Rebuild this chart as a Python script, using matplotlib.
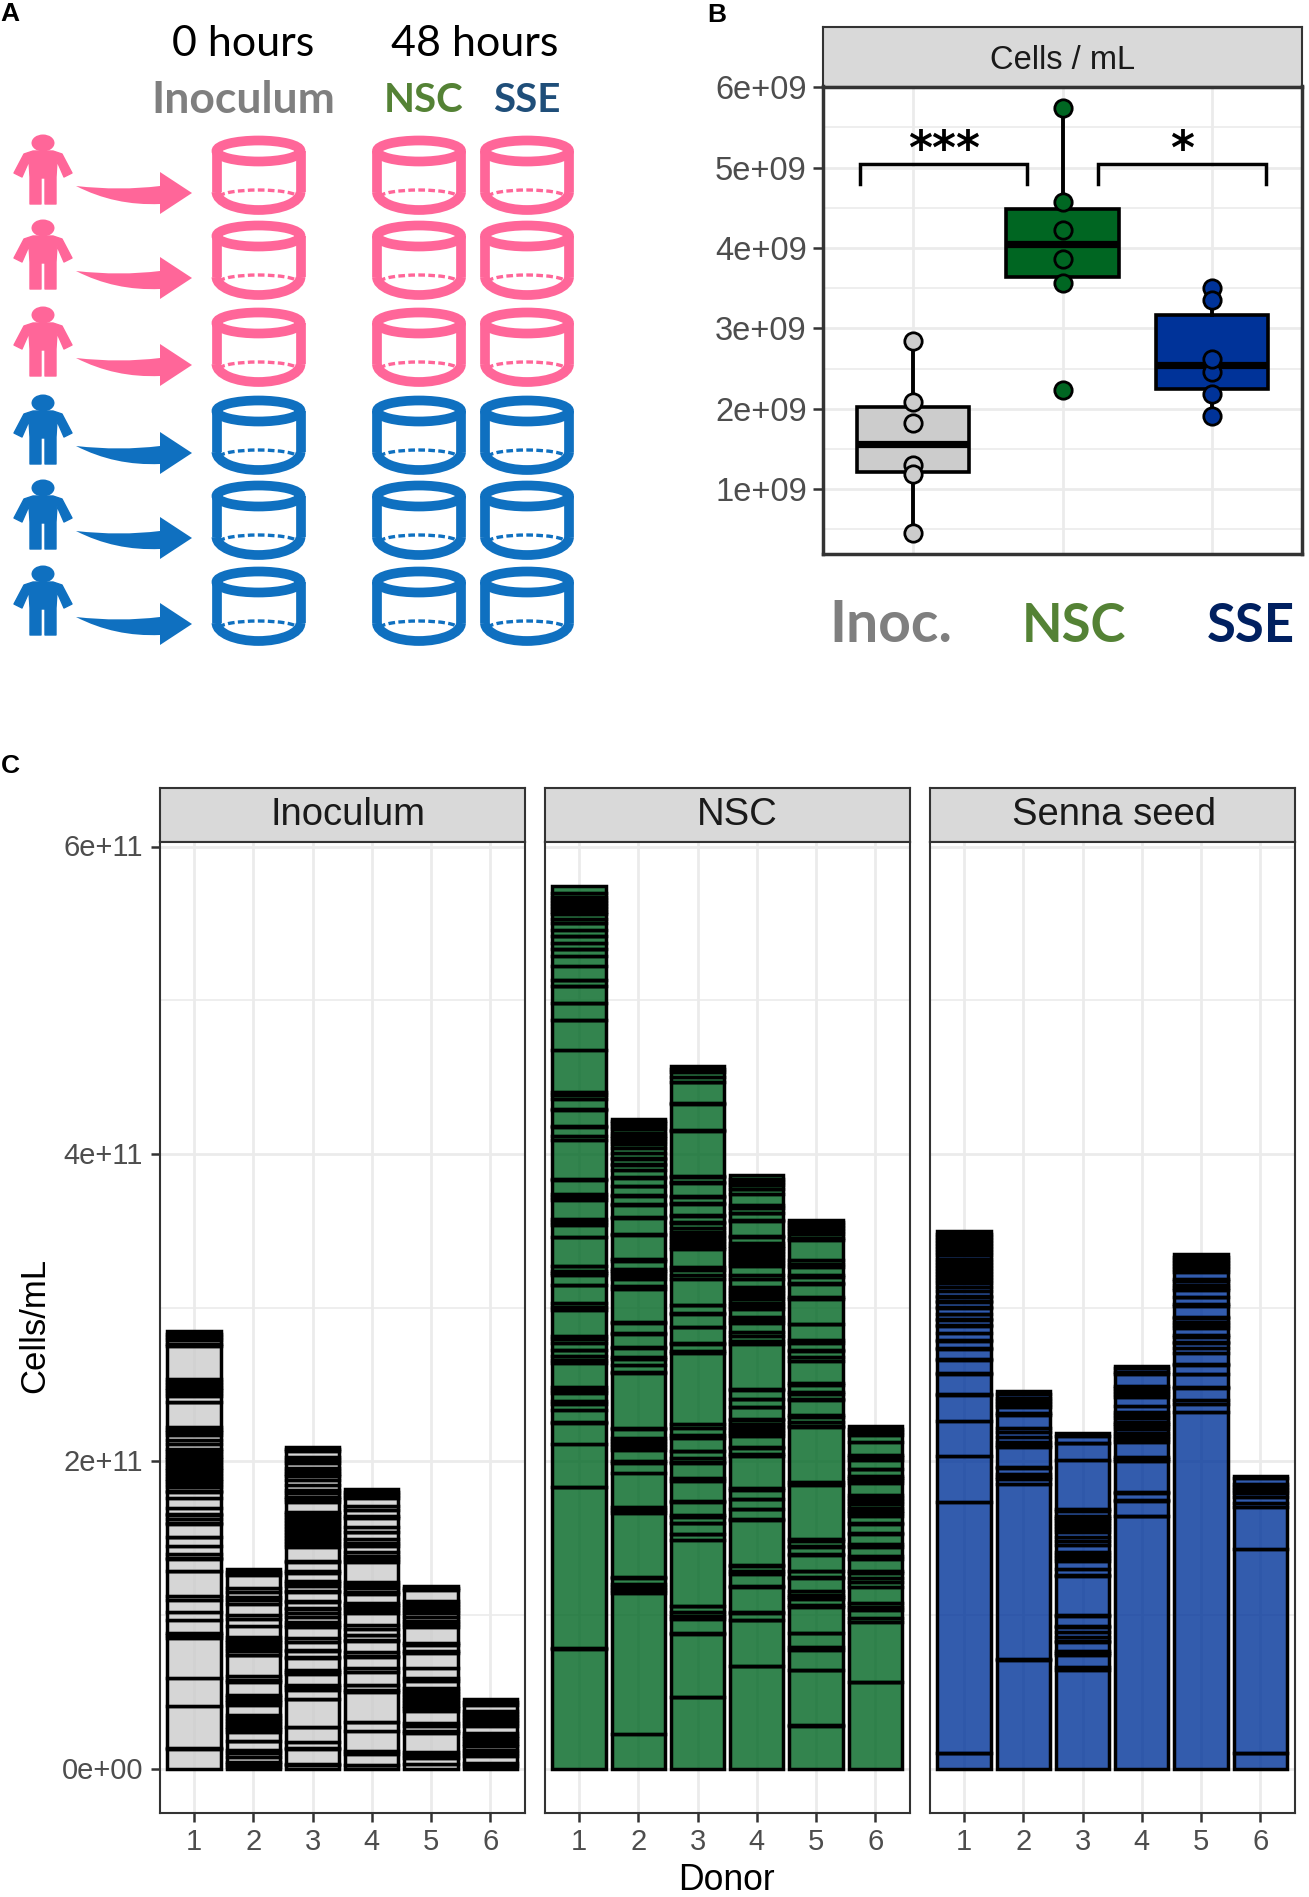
import numpy as np
import matplotlib
matplotlib.use('Agg')
import matplotlib.pyplot as plt
from matplotlib.colors import to_rgba
from matplotlib.patches import Ellipse, Arc, Polygon, PathPatch
from matplotlib.path import Path
from matplotlib.transforms import ScaledTranslation

plt.rcParams['font.family'] = ['Liberation Sans', 'DejaVu Sans']

W, H = 1309, 1897

# panel B: cells/mL per donor (1e9)
group_names = ['Inoc.', 'NSC', 'SSE']
inoc_cells = [2.85, 2.09, 1.82, 1.30, 1.19, 0.455]
nsc_cells = [5.746, 4.23, 4.575, 3.86, 3.57, 2.23]
sse_cells = [3.50, 2.46, 2.18, 2.62, 3.35, 1.91]

# panel C: top of every stacked taxon per donor, bottom to top (1e9 cells/mL)
inoc_d1 = [13.2, 13.7, 41.2, 59, 85.2, 87.3, 88.2, 96.7, 102.3, 110.1, 112.5, 128.5, 129, 136.3, 137, 140, 144.8, 150.6, 150.8, 159.5, 159.7, 162.6, 165.4, 165.8, 169.7, 176, 180.3, 180.5, 183.4, 185.2, 187, 188.8, 190.6, 192.4, 194.2, 196, 197.8, 199.6, 201.4, 203.2, 205, 206.6, 208.3, 211.5, 213.7, 217, 219, 220.6, 222.2, 238.4, 238.8, 242.7, 244.5, 246.3, 248.1, 250, 251.8, 253.6, 275, 276.1, 279.2, 281, 283, 285]
inoc_d2 = [1.5, 3, 4.6, 8, 10.2, 12.4, 18.2, 18.4, 23.8, 25.7, 27.5, 29.3, 31.2, 33, 34.9, 41.4, 43.2, 45, 46.5, 48.3, 56.4, 57.6, 60.5, 73.9, 74.1, 76.9, 78.7, 80.5, 82.3, 84.1, 86, 92.8, 97.5, 100.3, 107.3, 110.1, 111.8, 114.9, 117.7, 126.1, 128, 130]
inoc_d3 = [2.6, 3, 13.2, 13.9, 17.6, 27.1, 27.3, 45.3, 45.7, 51.4, 53.1, 54.8, 61.6, 63.1, 64.6, 72.2, 72.6, 76.9, 77.2, 82.8, 85, 92.1, 93.9, 95.6, 98.6, 101.2, 104, 104.5, 108.8, 109, 115.3, 116, 119, 120.8, 122.5, 127.4, 128.5, 134.6, 135, 144.3, 146, 148, 150, 152, 154, 156, 158, 160, 162, 164, 165.6, 167.1, 173.6, 175.4, 177.2, 179.3, 181.4, 184.7, 187.7, 190.3, 192, 194, 195.9, 199, 200.8, 202.6, 206.5, 207.8, 209.1]
inoc_d4 = [2.4, 2.6, 9.5, 11.9, 24.5, 30.3, 30.8, 50.3, 51.1, 54.6, 54.8, 63.1, 65.7, 73, 73.3, 76.1, 83.4, 83.7, 87.1, 87.3, 91, 93.6, 101.4, 103.3, 105.3, 106.7, 108.1, 114, 114.9, 117.7, 119.8, 121.8, 134.6, 136.5, 138.7, 140.9, 145, 147.2, 149.5, 153.9, 154.1, 157.6, 163.2, 164.7, 168.6, 171.2, 176.2, 178, 180, 182]
inoc_d5 = [3.5, 7.2, 9.2, 11.3, 23.4, 24.5, 28.2, 30.1, 37.5, 39.3, 41.2, 43, 44.9, 46.8, 48.7, 50.7, 52.7, 57.2, 59, 65.7, 75.4, 76.9, 80.4, 81.9, 92.3, 94.2, 96.5, 98.8, 101.6, 103.5, 105.5, 107.3, 109, 116.2, 117.6, 119]
inoc_d6 = [1.8, 3.7, 8.7, 10.4, 12.1, 14.7, 16.5, 18.4, 20, 21.6, 23.2, 28, 29.8, 31.6, 33.5, 35.5, 37.5, 41.4, 43.4, 45.5]

nsc_d1 = [78.2, 78.5, 183.1, 183.4, 211.1, 225.2, 225.4, 233.6, 237.3, 239.5, 244.5, 246.3, 248.2, 264.2, 266.2, 268.3, 272.4, 272.7, 277, 279.4, 281.8, 298.4, 300.7, 303, 314.9, 315.1, 321.2, 322.6, 324, 327, 327.3, 345.9, 346.3, 353.7, 355.6, 357.6, 370.2, 372.3, 374.3, 383.2, 384, 409, 411.6, 417.9, 418.1, 428.7, 429.6, 435.9, 438.2, 440.4, 467.7, 487.2, 487.4, 498.3, 498.5, 509.1, 509.3, 513, 513.2, 522.3, 529, 533.4, 533.6, 537, 541.6, 542, 545.7, 550, 550.3, 553.1, 555.9, 557.7, 559.6, 561.5, 563.4, 565.3, 567.2, 569.8, 574.6]
nsc_d2 = [23, 114.2, 116.5, 118.4, 120.1, 124.4, 124.6, 166.4, 168.4, 170.4, 192.7, 199.2, 200.5, 207.6, 209.5, 211.4, 213.2, 215, 221.1, 221.5, 257.7, 257.9, 262.5, 266.8, 267.9, 273.7, 274.4, 282.8, 283.5, 290.4, 290.9, 312.3, 314, 318.8, 320.6, 322.4, 323.9, 325.3, 330.7, 331.4, 347.4, 347.9, 358.3, 359.1, 366.7, 367.4, 373, 373.6, 379.3, 379.5, 384.7, 385.1, 389.5, 392.9, 393.4, 396.8, 397.3, 400.5, 403.8, 406.4, 408.3, 410.2, 412, 414, 416, 418, 420, 421.5, 423]
nsc_d3 = [46.8, 47, 88, 88.4, 97.3, 99.2, 101.9, 106, 106.2, 148.9, 152.6, 152.8, 159.7, 160, 163.8, 165.4, 173.6, 174, 187, 189.2, 199.2, 199.6, 202.2, 206.5, 207, 215.2, 217.4, 221.9, 224.1, 270.5, 271.6, 276.6, 277, 287.2, 287.8, 296.1, 296.5, 301.5, 301.7, 318.6, 321, 324.4, 326.4, 337.9, 339.7, 341.5, 343.4, 345.3, 347.2, 349.5, 351.8, 355.2, 355.7, 360, 360.4, 367.8, 368, 372.1, 373, 381, 381.7, 385.1, 386, 415, 415.5, 432.8, 433.5, 446.7, 446.9, 450.4, 453.2, 455.3, 457.5]
nsc_d4 = [67, 67.2, 96.7, 97.1, 101.2, 102.1, 118.3, 118.8, 126.8, 128.5, 131.8, 132.4, 161.9, 162.5, 168.8, 169.3, 175.3, 175.8, 181.4, 182.7, 203.5, 204.8, 208.5, 209.1, 216.7, 218.5, 220.4, 222.3, 224.1, 226.9, 227.4, 235.4, 235.6, 240.4, 240.8, 246.4, 247.1, 276.3, 278.3, 281.5, 284.4, 290.4, 292.3, 294.3, 299.3, 301.2, 303, 305.8, 307.7, 309.6, 311.4, 313.2, 318.4, 321, 327, 328.8, 330.8, 332.8, 334.8, 336.8, 338.8, 340.3, 341.8, 346.3, 346.6, 356.5, 357, 361.5, 361.9, 364.8, 366.7, 374.1, 377.1, 377.3, 379.9, 381.5, 383.8, 386.2]
nsc_d5 = [28.2, 28.4, 64.2, 64.6, 77.4, 79.3, 88.2, 88.4, 105.1, 106.8, 110.5, 111.8, 113.1, 116, 124.2, 124.6, 128.5, 129, 139.4, 140, 144.3, 144.8, 148.5, 149.8, 184.9, 186.6, 222.6, 223.2, 225.8, 229.1, 230.2, 239.9, 240.4, 243.8, 244.9, 249.9, 251.2, 265.5, 267.9, 272, 272.7, 277, 279.2, 289.3, 289.6, 306, 307.1, 315.6, 315.8, 320.1, 321.2, 326.4, 328.7, 331, 344, 345.7, 348.3, 350, 352, 354, 355.6, 357.2]
nsc_d6 = [56.4, 56.8, 95.8, 98.2, 103.2, 105.5, 107.9, 118.6, 121.8, 124, 127.4, 128.5, 136.8, 138.7, 144.3, 146.3, 152.8, 153.4, 159.3, 160, 164.3, 166.2, 168, 170, 172, 174, 176, 177.9, 185.7, 187.7, 189.2, 190.7, 194.8, 195, 200.9, 202.7, 204.4, 212.6, 217, 219, 221, 223]

sse_d1 = [10.3, 10.4, 173.9, 203.7, 226.6, 243.2, 243.7, 257.2, 257.7, 265.9, 266.6, 273, 273.5, 278.2, 278.8, 283.4, 288.1, 288.7, 292.2, 292.6, 295.9, 296.2, 299.6, 300.4, 303.6, 304.1, 307, 307.6, 310.6, 313.4, 316, 318, 320, 322, 324, 326, 328, 330, 332, 334, 336, 338, 340, 342, 344, 346, 348, 350]
sse_d2 = [70.8, 71.2, 185.6, 188.6, 190.2, 191.9, 196, 196.4, 209.2, 210.9, 212.5, 215.7, 219.2, 222, 230.1, 231.8, 235.4, 237.4, 239.4, 241.4, 243.6, 245.9]
sse_d3 = [64.3, 66.3, 74, 75.4, 77, 82.3, 83.3, 86.1, 89.3, 92, 92.8, 99.7, 100.2, 125.6, 126.2, 129.9, 135.4, 137.4, 139.4, 141.3, 145.6, 148, 150.6, 153.8, 155.8, 157.8, 159.8, 161.8, 163, 164.5, 167.8, 169.3, 201, 212, 212.3, 216.3, 218.2]
sse_d4 = [164.4, 164.8, 174.1, 174.7, 179.8, 180.1, 200.5, 201.9, 203.2, 212.7, 214.5, 216.3, 218.8, 220.8, 222.8, 224.3, 225.8, 228.3, 230.3, 232.4, 236.1, 242.1, 243.9, 245.9, 247.7, 249.4, 257.1, 258.2, 260.6, 262]
sse_d5 = [231.9, 237.4, 240.1, 247.9, 248.2, 256.8, 257.2, 262.8, 263.1, 270.4, 273.5, 276.9, 278, 281, 282.3, 286.5, 288.6, 290.7, 293.6, 294, 301.3, 302.4, 306.8, 307.3, 311.4, 313, 314.7, 317.4, 319, 323.3, 325.3, 327.3, 329.3, 331.3, 333.2, 335]
sse_d6 = [10.3, 10.4, 143, 170.2, 172.8, 176.7, 179.2, 181.7, 183.5, 185.2, 189.5, 190.8]

facet_names = ['Inoculum', 'NSC', 'Senna seed']
facet_stacks = [
    [inoc_d1, inoc_d2, inoc_d3, inoc_d4, inoc_d5, inoc_d6],
    [nsc_d1, nsc_d2, nsc_d3, nsc_d4, nsc_d5, nsc_d6],
    [sse_d1, sse_d2, sse_d3, sse_d4, sse_d5, sse_d6],
]
donors = [1, 2, 3, 4, 5, 6]

GREY, GREEN, BLUE = '#CCCCCC', '#006622', '#003399'
PINK, SKY = '#FF6699', '#0F70C0'
GRID = '#EBEBEB'
DARK = '#333333'
TICK = '#4D4D4D'


def px_axes(fig, l, t, r, b):
    return fig.add_axes([l / W, 1 - b / H, (r - l) / W, (b - t) / H])


def theme_bw(ax, border, tick_size, tick_len, pad, major_lw, minor_lw):
    ax.set_axisbelow(True)
    ax.grid(True, which='major', color=GRID, lw=major_lw)
    ax.grid(True, which='minor', axis='y', color=GRID, lw=minor_lw)
    for s in ax.spines.values():
        s.set_color(DARK)
        s.set_linewidth(border)
    ax.tick_params(which='major', length=tick_len, width=1.8, color=DARK, labelcolor=TICK, labelsize=tick_size, pad=pad)
    ax.tick_params(which='minor', length=0)


def strip(fig, l, t, r, b, label, size, dx=0, ypos=0.5):
    sa = px_axes(fig, l, t, r, b)
    sa.set_facecolor('#D9D9D9')
    sa.set_xticks([])
    sa.set_yticks([])
    for s in sa.spines.values():
        s.set_color(DARK)
        s.set_linewidth(1.5)
    sa.text(0.5 + dx / (r - l), ypos, label, ha='center', va='center', fontsize=size, color='#1A1A1A', transform=sa.transAxes)


fig = plt.figure(figsize=(W / 100, H / 100), dpi=100)

# panel A is a drawing, so it gets a pixel canvas
art = fig.add_axes([0, 0, 1, 1])
art.set_xlim(0, W)
art.set_ylim(H, 0)
art.axis('off')


def cylinder(cx, top, c):
    w, h, stroke = 84, 21, 7
    y1 = top + 15
    y2 = top + 56
    art.add_patch(Ellipse((cx, y1), w, h, fill=False, ec=c, lw=stroke))
    art.plot([cx - w / 2, cx - w / 2], [y1, y2], color=c, lw=stroke, solid_capstyle='butt')
    art.plot([cx + w / 2, cx + w / 2], [y1, y2], color=c, lw=stroke, solid_capstyle='butt')
    art.add_patch(Arc((cx, y2), w, 36, theta1=0, theta2=180, ec=c, lw=stroke))
    art.add_patch(Arc((cx, y2 + 5), w - 6, 14, theta1=180, theta2=360, ec=c, lw=2.4, ls=(0, (2, 1))))


def person(top, c):
    cx = 43
    art.add_patch(Ellipse((cx, top + 5), 23, 17, fc=c, ec='none'))
    body = [(-10, 13), (10, 13), (19, 16), (29, 35), (21, 39), (14, 23), (13, 39), (13, 66), (2, 66), (2, 40),
            (-2, 40), (-2, 66), (-13, 66), (-13, 39), (-14, 23), (-21, 39), (-29, 35), (-19, 16)]
    art.add_patch(Polygon([(cx + a, top + b) for a, b in body], fc=c, ec=c, lw=1, joinstyle='round'))


def arrow(top, c):
    verts = [(76, top + 48), (120, top + 53), (160, top + 48), (160, top + 34), (192, top + 55), (160, top + 76),
             (160, top + 66), (115, top + 68), (76, top + 48)]
    codes = [Path.MOVETO, Path.CURVE3, Path.CURVE3, Path.LINETO, Path.LINETO, Path.LINETO, Path.LINETO,
             Path.CURVE3, Path.CURVE3]
    art.add_patch(PathPatch(Path(verts, codes), fc=c, ec='none'))


row_tops = [136, 221, 308, 396, 481, 567]
row_cols = [PINK, PINK, PINK, SKY, SKY, SKY]
for top, c in zip(row_tops, row_cols):
    person(top + 2, c)
    arrow(top + 2, c)
    for cx in [258.5, 419, 527]:
        cylinder(cx, top, c)

art.text(243, 44.5, '0 hours', ha='center', va='center', fontsize=31, family='Lato', color='black')
art.text(475, 44.5, '48 hours', ha='center', va='center', fontsize=31, family='Lato', color='black')
art.text(243, 100, 'Inoculum', ha='center', va='center', fontsize=32, family='Lato', weight='bold', color='#7F7F7F')
art.text(424, 100, 'NSC', ha='center', va='center', fontsize=29, family='Lato', weight='bold', color='#548235')
art.text(526.5, 100, 'SSE', ha='center', va='center', fontsize=29, family='Lato', weight='bold', color='#1F4E79')

for lab, x, y in [('A', 10, 14), ('B', 717, 14.5), ('C', 10, 766)]:
    art.text(x, y, lab, ha='center', va='center', fontsize=19, weight='bold', color='black')

# panel B
strip(fig, 823, 27, 1302, 86.5, 'Cells / mL', 23.5, ypos=0.44)
axb = px_axes(fig, 823, 86.5, 1302, 554)
theme_bw(axb, 2.5, 23.5, 7, 4.7, 2.0, 1.2)
box_vals = [inoc_cells, nsc_cells, sse_cells]
box_cols = [GREY, GREEN, BLUE]
bp = axb.boxplot(box_vals, positions=[1, 2, 3], widths=0.75, patch_artist=True, showcaps=False, showfliers=False,
                 boxprops=dict(edgecolor='black', linewidth=2.6),
                 whiskerprops=dict(color='black', linewidth=2.8),
                 medianprops=dict(color='black', linewidth=5.2, solid_capstyle='butt'), zorder=3)
for patch, c in zip(bp['boxes'], box_cols):
    patch.set_facecolor(c)
for i, (vals, c) in enumerate(zip(box_vals, box_cols)):
    axb.plot([i + 1] * len(vals), vals, 'o', ms=12.5, mfc=c, mec='black', mew=2, ls='none', zorder=4)
axb.set_xlim(0.4, 3.6)
axb.set_ylim(0.194, 6.01)
axb.set_xticks([1, 2, 3])
axb.set_xticklabels([])
axb.tick_params(axis='x', length=0)
axb.set_yticks([1, 2, 3, 4, 5, 6])
axb.set_yticklabels(['1e+09', '2e+09', '3e+09', '4e+09', '5e+09', '6e+09'])
axb.set_yticks([0.5, 1.5, 2.5, 3.5, 4.5, 5.5], minor=True)
axb.plot([0.646, 0.646, 1.766, 1.766], [4.8, 5.05, 5.05, 4.8], color='black', lw=2.5, solid_joinstyle='miter')
axb.plot([2.24, 2.24, 3.362, 3.362], [4.8, 5.05, 5.05, 4.8], color='black', lw=2.5, solid_joinstyle='miter')
axb.text(1.21, 5.205, '***', ha='center', va='center', fontsize=33, weight='bold', family='DejaVu Sans', color='black')
axb.text(2.80, 5.205, '*', ha='center', va='center', fontsize=33, weight='bold', family='DejaVu Sans', color='black')

art.text(890.6, 626, group_names[0], ha='center', va='center', fontsize=41, family='Lato', weight='bold', color='#7F7F7F')
art.text(1074, 626, group_names[1], ha='center', va='center', fontsize=38, family='Lato', weight='bold', color='#548235')
art.text(1251, 626, group_names[2], ha='center', va='center', fontsize=38, family='Lato', weight='bold', color='#002060')

# panel C
lefts = [160, 545, 930]
strip_dx = [5.4, 9.7, 1.8]
fill_cols = [GREY, GREEN, BLUE]
for j, (name, stacks, c) in enumerate(zip(facet_names, facet_stacks, fill_cols)):
    l = lefts[j]
    strip(fig, l, 788, l + 365, 842, name, 27.5, strip_dx[j])
    ax = px_axes(fig, l, 842, l + 365, 1813)
    theme_bw(ax, 1.5, 21, 6.7, 5.5, 2.0, 1.2)
    ax.tick_params(axis='x', pad=3.8)
    for d, tops in zip(donors, stacks):
        edges = np.array([0] + tops) * 1e9
        ax.bar(np.full(len(tops), d), np.diff(edges), bottom=edges[:-1], width=0.9,
               facecolor=to_rgba(c, 0.8), edgecolor='black', linewidth=2.5, zorder=3)
    ax.set_xlim(0.425, 6.585)
    ax.set_ylim(-0.287e11, 6.03e11)
    ax.set_xticks(donors)
    ax.set_yticks([0, 2e11, 4e11, 6e11])
    ax.set_yticks([1e11, 3e11, 5e11], minor=True)
    if j == 0:
        ax.set_yticklabels(['0e+00', '2e+11', '4e+11', '6e+11'])
        for lab in ax.get_yticklabels():
            lab.set_transform(lab.get_transform() + ScaledTranslation(0, 1.2 / 100, fig.dpi_scale_trans))
    else:
        ax.set_yticklabels([])
        ax.tick_params(axis='y', length=0)

art.text(35, 1325, 'Cells/mL', rotation=90, ha='center', va='center', fontsize=25, color='black')
art.text(726.4, 1881, 'Donor', ha='center', va='center', fontsize=25.6, color='black')

art.set_zorder(5)
art.patch.set_alpha(0)

fig.savefig('out.png', dpi=100)
